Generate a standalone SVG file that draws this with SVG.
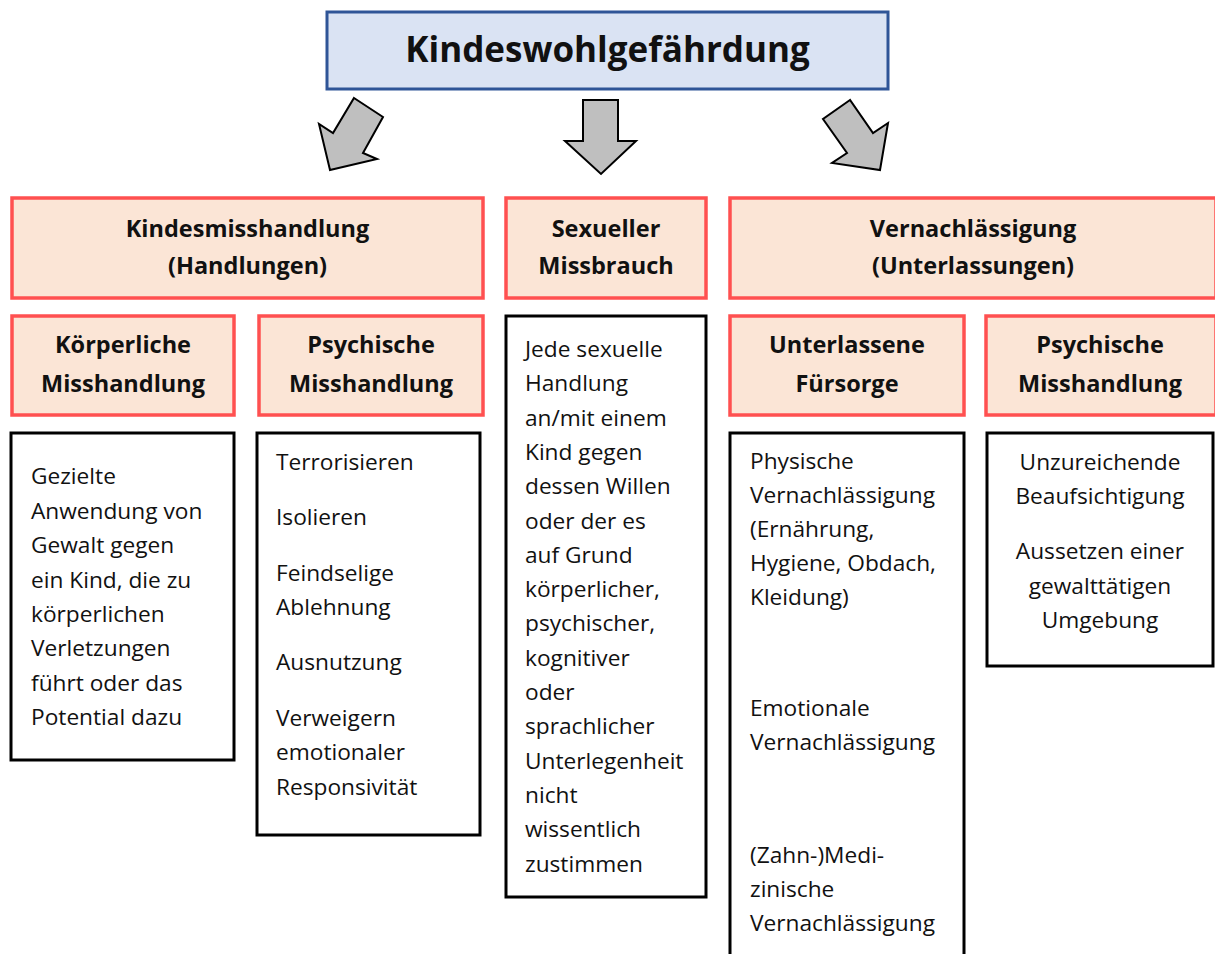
<svg xmlns="http://www.w3.org/2000/svg" width="1215" height="954" viewBox="0 0 1215 954">
<style>
.title{font-family:"Open Sans","Liberation Sans",sans-serif;font-weight:bold;font-size:35px;fill:#111;text-anchor:middle}
.head{font-family:"Open Sans","Liberation Sans",sans-serif;font-weight:bold;font-size:23.5px;fill:#111;text-anchor:middle}
.body{font-family:"Open Sans","Liberation Sans",sans-serif;font-size:22.7px;fill:#111}
.mid{text-anchor:middle}
.blue{fill:#dae3f3;stroke:#2f5597;stroke-width:3}
.red{fill:#fbe5d6;stroke:#ff5050;stroke-width:3.5}
.blk{fill:#fff;stroke:#000;stroke-width:3}
.arrow{fill:#bfbfbf;stroke:#000;stroke-width:2;stroke-linejoin:miter}
</style>
<rect width="1215" height="954" fill="#fff"/>
<g id="title">
<rect class="blue" x="327" y="12" width="561" height="77"/>
<text class="title" x="607.5" y="62">Kindeswohlgefährdung</text>
</g>
<g id="connectors">
<polygon class="arrow" points="354,98 383,117 363,153 377,159 330,170 319,124 333,133"/>
<polygon class="arrow" points="583,100 618,100 618,141 636,141 601,174 565,141 583,141"/>
<polygon class="arrow" points="850,100 823,119 847,153 832,163 880,170 888,123 873,133"/>
</g>
<g id="kindesmisshandlung">
<rect class="red" x="12" y="198" width="471" height="100"/>
<text class="head" x="247.5" y="237">Kindesmisshandlung</text>
<text class="head" x="247.5" y="274">(Handlungen)</text>
</g>
<g id="sexueller-missbrauch">
<rect class="red" x="506" y="198" width="200" height="100"/>
<text class="head" x="606" y="237">Sexueller</text>
<text class="head" x="606" y="274">Missbrauch</text>
</g>
<g id="vernachlaessigung">
<rect class="red" x="730" y="198" width="486" height="100"/>
<text class="head" x="973" y="237">Vernachlässigung</text>
<text class="head" x="973" y="274">(Unterlassungen)</text>
</g>
<g id="koerperliche-misshandlung">
<rect class="red" x="12" y="316" width="222" height="99"/>
<text class="head" x="123" y="353">Körperliche</text>
<text class="head" x="123" y="392">Misshandlung</text>
</g>
<g id="psychische-misshandlung-1">
<rect class="red" x="259" y="316" width="224" height="99"/>
<text class="head" x="371" y="353">Psychische</text>
<text class="head" x="371" y="392">Misshandlung</text>
</g>
<g id="unterlassene-fuersorge">
<rect class="red" x="730" y="316" width="234" height="99"/>
<text class="head" x="847" y="353">Unterlassene</text>
<text class="head" x="847" y="392">Fürsorge</text>
</g>
<g id="psychische-misshandlung-2">
<rect class="red" x="986" y="316" width="230" height="99"/>
<text class="head" x="1100" y="353">Psychische</text>
<text class="head" x="1100" y="392">Misshandlung</text>
</g>
<g id="desc-koerperlich">
<rect class="blk" x="11" y="433" width="223" height="327"/>
<text class="body" x="31" y="484">Gezielte</text>
<text class="body" x="31" y="518.5">Anwendung von</text>
<text class="body" x="31" y="553">Gewalt gegen</text>
<text class="body" x="31" y="587.5">ein Kind, die zu</text>
<text class="body" x="31" y="622">körperlichen</text>
<text class="body" x="31" y="656">Verletzungen</text>
<text class="body" x="31" y="690.5">führt oder das</text>
<text class="body" x="31" y="725">Potential dazu</text>
</g>
<g id="desc-psychisch-1">
<rect class="blk" x="257" y="433" width="223" height="402"/>
<text class="body" x="276" y="470">Terrorisieren</text>
<text class="body" x="276" y="525">Isolieren</text>
<text class="body" x="276" y="580.5">Feindselige</text>
<text class="body" x="276" y="615">Ablehnung</text>
<text class="body" x="276" y="670">Ausnutzung</text>
<text class="body" x="276" y="726">Verweigern</text>
<text class="body" x="276" y="760">emotionaler</text>
<text class="body" x="276" y="795">Responsivität</text>
</g>
<g id="desc-sexuell">
<rect class="blk" x="506" y="316" width="200" height="581"/>
<text class="body" x="525" y="357">Jede sexuelle</text>
<text class="body" x="525" y="391.3">Handlung</text>
<text class="body" x="525" y="425.6">an/mit einem</text>
<text class="body" x="525" y="459.9">Kind gegen</text>
<text class="body" x="525" y="494.2">dessen Willen</text>
<text class="body" x="525" y="528.5">oder der es</text>
<text class="body" x="525" y="562.8">auf Grund</text>
<text class="body" x="525" y="597.1">körperlicher,</text>
<text class="body" x="525" y="631.4">psychischer,</text>
<text class="body" x="525" y="665.7">kognitiver</text>
<text class="body" x="525" y="700">oder</text>
<text class="body" x="525" y="734.3">sprachlicher</text>
<text class="body" x="525" y="768.6">Unterlegenheit</text>
<text class="body" x="525" y="802.9">nicht</text>
<text class="body" x="525" y="837.2">wissentlich</text>
<text class="body" x="525" y="871.5">zustimmen</text>
</g>
<g id="desc-fuersorge">
<rect class="blk" x="730" y="433" width="234" height="540"/>
<text class="body" x="750" y="469">Physische</text>
<text class="body" x="750" y="503">Vernachlässigung</text>
<text class="body" x="750" y="537">(Ernährung,</text>
<text class="body" x="750" y="571">Hygiene, Obdach,</text>
<text class="body" x="750" y="605">Kleidung)</text>
<text class="body" x="750" y="716">Emotionale</text>
<text class="body" x="750" y="750">Vernachlässigung</text>
<text class="body" x="750" y="863">(Zahn-)Medi-</text>
<text class="body" x="750" y="897">zinische</text>
<text class="body" x="750" y="931">Vernachlässigung</text>
</g>
<g id="desc-psychisch-2">
<rect class="blk" x="987" y="433" width="226" height="233"/>
<text class="body mid" x="1100" y="470">Unzureichende</text>
<text class="body mid" x="1100" y="504">Beaufsichtigung</text>
<text class="body mid" x="1100" y="559">Aussetzen einer</text>
<text class="body mid" x="1100" y="594">gewalttätigen</text>
<text class="body mid" x="1100" y="628">Umgebung</text>
</g>
</svg>
